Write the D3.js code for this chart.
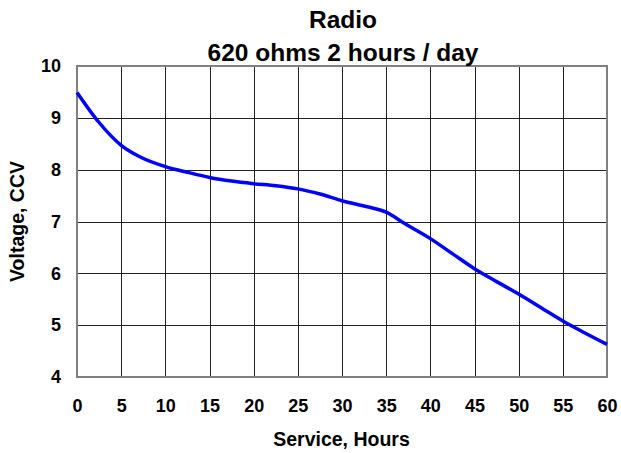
<!DOCTYPE html>
<html>
<head>
<meta charset="utf-8">
<script src="https://cdn.jsdelivr.net/npm/d3@7"></script>
<style>
  body { margin: 0; background: #fff; }
  text { font-family: "Liberation Sans", Arial, sans-serif; font-weight: bold; fill: #000; }
</style>
</head>
<body>
<div id="main"></div>
<script>
const hours = [0, 2.5, 5, 7.1, 10, 12.5, 15, 17.5, 20, 22.5, 25, 27.5, 30, 33, 35, 37, 40, 42.5, 45, 47.5, 50, 52.5, 55, 57.5, 60];
const volts = [9.49, 8.91, 8.47, 8.25, 8.06, 7.95, 7.85, 7.78, 7.73, 7.69, 7.63, 7.53, 7.40, 7.28, 7.18, 6.97, 6.67, 6.38, 6.09, 5.84, 5.60, 5.34, 5.08, 4.85, 4.63];
const xTicks = [0, 5, 10, 15, 20, 25, 30, 35, 40, 45, 50, 55, 60];
const yTicks = [4, 5, 6, 7, 8, 9, 10];
const titleLines = ["Radio", "620 ohms 2 hours / day"];

const width = 621, height = 453;
const plotL = 77, plotR = 607, plotT = 66, plotB = 377;

const svg = d3.select('#main').append('svg')
  .attr('width', width).attr('height', height);

const x = d3.scaleLinear().domain([0, 60]).range([plotL, plotR]);
const y = d3.scaleLinear().domain([4, 10]).range([plotB, plotT]);

// grid
svg.append('g').selectAll('line')
  .data(xTicks.slice(1, -1)).enter().append('line')
  .attr('x1', d => Math.round(x(d)) + 0.5).attr('x2', d => Math.round(x(d)) + 0.5)
  .attr('y1', plotT).attr('y2', plotB)
  .attr('stroke', '#222').attr('stroke-width', 1);

svg.append('g').selectAll('line')
  .data(yTicks.slice(1, -1)).enter().append('line')
  .attr('y1', d => Math.round(y(d)) + 0.5).attr('y2', d => Math.round(y(d)) + 0.5)
  .attr('x1', plotL).attr('x2', plotR)
  .attr('stroke', '#222').attr('stroke-width', 1);

svg.append('rect')
  .attr('x', plotL).attr('y', plotT)
  .attr('width', plotR - plotL).attr('height', plotB - plotT)
  .attr('fill', 'none').attr('stroke', '#808080').attr('stroke-width', 2);

// axes labels
const fmt = d3.format('d');
const xAxis = d3.axisBottom(x).tickValues(xTicks).tickSize(0).tickPadding(22).tickFormat(fmt);
svg.append('g').attr('transform', `translate(0,${plotB})`).call(xAxis)
  .call(g => g.select('.domain').remove())
  .selectAll('text').style('font-size', '18px').style('font-family', '"Liberation Sans", Arial, sans-serif').style('font-weight', 'bold');

const yAxis = d3.axisLeft(y).tickValues(yTicks).tickSize(0).tickPadding(16).tickFormat(fmt);
svg.append('g').attr('transform', `translate(${plotL},0)`).call(yAxis)
  .call(g => g.select('.domain').remove())
  .selectAll('text').style('font-size', '18px').style('font-family', '"Liberation Sans", Arial, sans-serif').style('font-weight', 'bold');

// line
const pts = hours.map((h, i) => [h, volts[i]]);
svg.append('path')
  .datum(pts)
  .attr('fill', 'none')
  .attr('stroke', '#0000ff')
  .attr('stroke-width', 3.5)
  .attr('d', d3.line().x(d => x(d[0])).y(d => y(d[1])).curve(d3.curveMonotoneX));

// titles
svg.selectAll('text.title')
  .data(titleLines).enter().append('text')
  .attr('class', 'title')
  .attr('x', (plotL + plotR) / 2 + 1)
  .attr('y', (d, i) => 28 + i * 33)
  .attr('text-anchor', 'middle')
  .style('font-size', '24.5px')
  .text(d => d);

svg.append('text')
  .attr('x', (plotL + plotR) / 2 - 0.5)
  .attr('y', 446)
  .attr('text-anchor', 'middle')
  .style('font-size', '19.5px')
  .text('Service, Hours');

svg.append('text')
  .attr('transform', `translate(24,${(plotT + plotB) / 2}) rotate(-90)`)
  .attr('text-anchor', 'middle')
  .style('font-size', '19.5px')
  .text('Voltage, CCV');
</script>
</body>
</html>
